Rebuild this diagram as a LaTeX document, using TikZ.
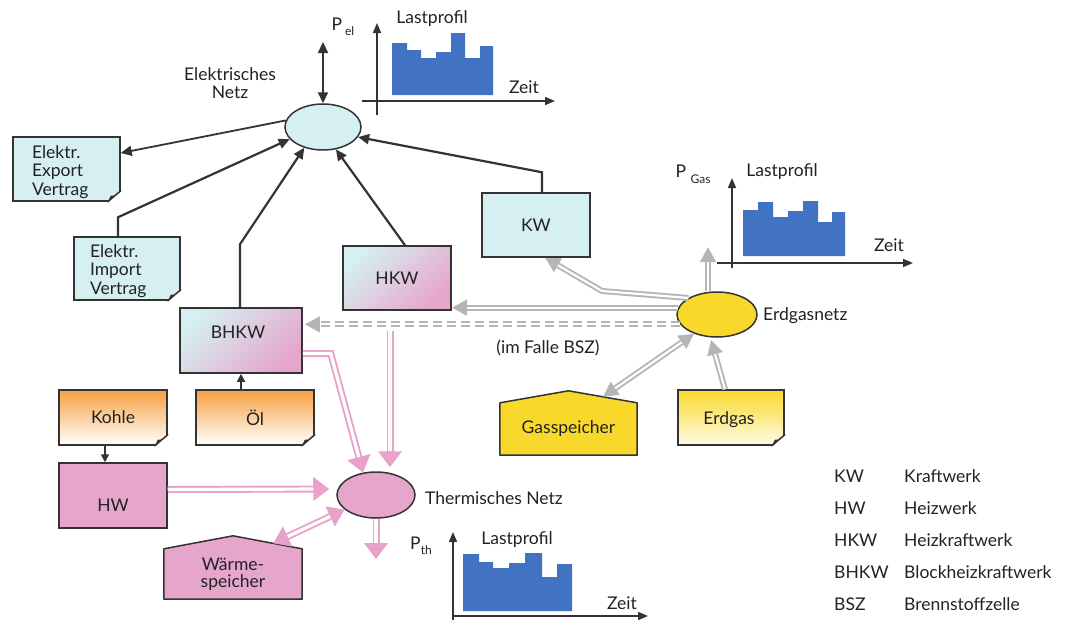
\documentclass[tikz,border=0pt]{standalone}
\usepackage{fontspec}
\setmainfont{Lato}
\usetikzlibrary{arrows.meta,shapes.geometric,calc,backgrounds}
\definecolor{cyanbox}{HTML}{D6EFF1}
\definecolor{pinkbox}{HTML}{E6A6CC}
\definecolor{yellowbox}{HTML}{F8D92B}
\definecolor{paleyellow}{HTML}{FFFBE6}
\definecolor{orangebox}{HTML}{F7A040}
\definecolor{barblue}{HTML}{4272C2}
\definecolor{arrgray}{HTML}{B5B5B5}
\definecolor{arrpink}{HTML}{E8A2CA}
\definecolor{edge}{HTML}{333333}
\definecolor{txt}{HTML}{222222}
\newcommand\dogear[1]{%
  \fill[white] ([xshift=-14pt,yshift=-2pt]#1.south east) -- ([xshift=2pt,yshift=-2pt]#1.south east) -- ([xshift=2pt,yshift=12pt]#1.south east) -- cycle;
  \fill[edge] ([xshift=-13pt]#1.south east) -- ([yshift=11pt]#1.south east) .. controls ([xshift=-5pt,yshift=6pt]#1.south east) .. ([xshift=-10pt,yshift=6pt]#1.south east) -- cycle;
  \draw[edge,line width=1.5pt,line cap=round] ([xshift=-13pt]#1.south east) -- ([yshift=11pt]#1.south east);
}
% double-line connector: outer coloured line, then white inner line
\newcommand\dline[3]{\draw[#1] #3; \draw[#2] #3;}
\begin{document}
\begin{tikzpicture}[x=1pt,y=-1pt,
  every node/.style={font=\fontsize{17.5}{18.5}\selectfont, inner sep=0pt, text=txt},
  box/.style={draw=edge, line width=1.5pt},
  net/.style={ellipse, draw=edge, line width=1.5pt},
  blk/.style={draw=edge, line width=2.2pt, -{Triangle[length=11pt,width=10pt]}},
  axis/.style={draw=edge, line width=1.5pt, -{Triangle[length=10pt,width=8pt]}},
  gout/.style={draw=arrgray, line width=6pt},
  gin/.style={draw=white, line width=2.2pt},
  gtip/.style={-{Triangle[length=15pt,width=15pt]}},
  gtips/.style={{Triangle[length=15pt,width=15pt]}-{Triangle[length=15pt,width=15pt]}},
  pout/.style={draw=arrpink, line width=7pt},
  pin/.style={draw=white, line width=3.2pt},
  ptip/.style={-{Triangle[length=16pt,width=23pt]}},
  ptips/.style={{Triangle[length=16pt,width=21pt]}-{Triangle[length=16pt,width=21pt]}},
  gdash/.style={dash pattern=on 9pt off 5pt},
  bars/.style={fill=barblue}
]
\useasboundingbox (0,0) rectangle (1072,622);

% ---------- nodes ----------
\node[net, fill=cyanbox, minimum width=76pt, minimum height=46pt] (elnetz) at (323,127) {};
\node[align=center] (elnetzlbl) at (230,83) {Elektrisches\\Netz};

\node[box, fill=cyanbox, minimum width=107pt, minimum height=64pt] (export) at (66.5,169) {};
\node[text width=72pt, align=left] (exporttxt) at (68,172) {Elektr.\\Export\\Vertrag};
\dogear{export}
\node[box, fill=cyanbox, minimum width=106pt, minimum height=63pt] (import) at (127,268.5) {};
\node[text width=76pt, align=left] (importtxt) at (128,271) {Elektr.\\Import\\Vertrag};
\dogear{import}

\node[box, fill=cyanbox, minimum width=108pt, minimum height=64pt] (kw) at (536,225) {KW};
\node[box, top color=cyanbox, bottom color=pinkbox, shading angle=45, minimum width=108pt, minimum height=64pt] (hkw) at (397,278) {HKW};
\node[box, top color=cyanbox, bottom color=pinkbox, shading angle=45, minimum width=122pt, minimum height=65pt] (bhkw) at (241,340.5) {};
\node (bhkwlbl) at (238,332) {BHKW};

\node[box, top color=orangebox, bottom color=white, minimum width=118pt, minimum height=55pt] (oel) at (255,417.5) {Öl};
\dogear{oel}
\node[box, top color=orangebox, bottom color=white, minimum width=108pt, minimum height=55pt] (kohle) at (113,417.5) {Kohle};
\dogear{kohle}
\node[box, fill=pinkbox, minimum width=108pt, minimum height=65pt] (hw) at (113,495.5) {};
\node (hwlbl) at (113,505) {HW};

\node[minimum width=138pt, minimum height=50pt, align=center, font=\fontsize{17.5}{16.5}\selectfont] (ws) at (233,574) {Wärme-\\speicher};
\node[minimum width=137pt, minimum height=52pt] (gs) at (568.5,429) {Gasspeicher};
\begin{pgfonlayer}{background}
\filldraw[fill=pinkbox, draw=edge, line width=1.5pt, line join=round] (ws.south west) -- (ws.north west) -- ([yshift=13pt]ws.north) -- (ws.north east) -- (ws.south east) -- cycle;
\filldraw[fill=yellowbox, draw=edge, line width=1.5pt, line join=round] (gs.south west) -- (gs.north west) -- ([yshift=12pt]gs.north) -- (gs.north east) -- (gs.south east) -- cycle;
\end{pgfonlayer}

\node[box, top color=yellowbox, bottom color=paleyellow, minimum width=106pt, minimum height=55pt] (erdgas) at (731,417.5) {};
\node (erdgaslbl) at (729,420) {Erdgas};
\dogear{erdgas}

\node[net, fill=yellowbox, minimum width=80pt, minimum height=45pt] (gasnetz) at (717,314.5) {};
\node[anchor=west] (gasnetzlbl) at (763,316) {Erdgasnetz};
\node[net, fill=pinkbox, minimum width=78pt, minimum height=46pt] (thnetz) at (376,495) {};
\node[anchor=west] (thnetzlbl) at (425,498) {Thermisches Netz};
\node (bsz) at (548,348) {(im Falle BSZ)};

% ---------- black connectors ----------
\coordinate (pel) at (323,42);
\draw[blk, {Triangle[length=11pt,width=10pt]}-{Triangle[length=11pt,width=10pt]}] (elnetz.north) -- (pel);
\draw[blk, line width=1.8pt] (elnetz.170) -- ([yshift=16pt]export.east);
\draw[blk] ([xshift=-9pt]import.north) -- ++(0,-19) -- (elnetz.200);
\draw[blk] ([xshift=-1pt]bhkw.north) -- ++(0,-63) -- (elnetz.228);
\draw[blk] ([xshift=8pt]hkw.north) -- (elnetz.300);
\draw[blk] ([xshift=6pt]kw.north) -- ++(0,-20) -- (elnetz.344);
\draw[blk, line width=1.6pt, -{Triangle[length=8pt,width=8pt]}] (oel.north -| bhkw.south) -- (bhkw.south);
\draw[blk, line width=1.6pt, -{Triangle[length=8pt,width=8pt]}] ([xshift=-8pt]kohle.south) -- ([xshift=-8pt]hw.north);

% ---------- gray connectors ----------
\coordinate (gup) at (708,247);
\dline{gout,gtip}{gin,shorten >=15pt}{([xshift=-9pt]gasnetz.north) -- (gup)}
\dline{gout,gtip}{gin,shorten >=15pt}{(gasnetz.150) -- (602,291) -- ([xshift=9pt]kw.south)}
\dline{gout,gtip}{gin,shorten >=15pt}{(gasnetz.170) -- (hkw.east |- gasnetz.170)}
\dline{gout,gdash,gtip}{gin,gdash,shorten >=15pt}{(gasnetz.195) -- ([xshift=2pt]bhkw.east |- gasnetz.195)}
\dline{gout,gtip}{gin,shorten >=15pt}{([xshift=-6pt]erdgas.north) -- ([xshift=-6pt,yshift=-2pt]gasnetz.south)}
\dline{gout,gtips}{gin,shorten >=15pt,shorten <=15pt}{($([yshift=12pt]gs.north)!0.5!(gs.north east)$) -- (gasnetz.220)}

% ---------- pink connectors ----------
\dline{pout,ptip}{pin,shorten >=16pt}{([xshift=-7pt,yshift=-20pt]hkw.south) -- ([xshift=-7pt,yshift=4pt]hkw.south |- thnetz.north)}
\dline{pout,ptip}{pin,shorten >=16pt}{([yshift=-13pt]bhkw.east) -- ++(28,0) -- (thnetz.120)}
\dline{pout,ptip}{pin,shorten >=16pt}{([yshift=6pt]hw.east) -- ([xshift=-7pt,yshift=6pt]thnetz.west)}
\dline{pout,ptips}{pin,shorten >=16pt,shorten <=16pt}{(thnetz.205) -- ($([yshift=13pt]ws.north)!0.58!(ws.north east)$)}
\coordinate (thdown) at (376,559);
\dline{pout,ptip}{pin,shorten >=16pt}{(thnetz.south) -- (thdown)}

% ---------- load profile: electric ----------
\fill[bars] (392,95) -- (392,43) -- (407,43) -- (407,50) -- (421,50) -- (421,58) -- (436,58) -- (436,52) -- (451,52) -- (451,33) -- (465,33) -- (465,58) -- (480,58) -- (480,46) -- (493,46) -- (493,95) -- cycle;
\coordinate (ely0) at (377,115); \coordinate (ely1) at (377,23);
\coordinate (elx0) at (362,101); \coordinate (elx1) at (555,101);
\draw[axis] (ely0) -- (ely1);
\draw[axis] (elx0) -- (elx1);
\node (pellbl) at (343,27) {P\,\raisebox{-5pt}{\fontsize{12}{12}\selectfont el}};
\node (ellast) at (432,19) {Lastprofil};
\node (elzeit) at (524,87) {Zeit};

% ---------- load profile: gas ----------
\fill[bars] (743,256) -- (743,210) -- (758,210) -- (758,202) -- (773,202) -- (773,217) -- (788,217) -- (788,211) -- (803,211) -- (803,201) -- (818,201) -- (818,222) -- (832,222) -- (832,212) -- (845,212) -- (845,256) -- cycle;
\coordinate (gay0) at (732,268); \coordinate (gay1) at (732,178);
\coordinate (gax0) at (717,263); \coordinate (gax1) at (913,263);
\draw[axis] (gay0) -- (gay1);
\draw[axis] (gax0) -- (gax1);
\node (pgaslbl) at (693,174) {P \raisebox{-6pt}{\fontsize{12}{12}\selectfont Gas}};
\node (galast) at (782,172) {Lastprofil};
\node (gazeit) at (889,245) {Zeit};

% ---------- load profile: thermal ----------
\fill[bars] (463,611) -- (463,554) -- (479,554) -- (479,562) -- (493,562) -- (493,568) -- (509,568) -- (509,563) -- (525,563) -- (525,553) -- (542,553) -- (542,577) -- (557,577) -- (557,564) -- (572,564) -- (572,611) -- cycle;
\coordinate (thy0) at (453,620); \coordinate (thy1) at (453,532);
\coordinate (thx0) at (453,616); \coordinate (thx1) at (648,616);
\draw[axis] (thy0) -- (thy1);
\draw[axis] (thx0) -- (thx1);
\node (pthlbl) at (421,546) {P\raisebox{-5pt}{\fontsize{12}{12}\selectfont th}};
\node (thlast) at (517,540) {Lastprofil};
\node (thzeit) at (622,603) {Zeit};

% ---------- legend ----------
\foreach \y/\a/\b [count=\i] in {476/KW/Kraftwerk, 508/HW/Heizwerk, 540/HKW/Heizkraftwerk, 572/BHKW/Blockheizkraftwerk, 604/BSZ/Brennstoffzelle}{
  \node[anchor=west] (lga\i) at (834,\y) {\a};
  \node[anchor=west] (lgb\i) at (904,\y) {\b};
}
\end{tikzpicture}
\end{document}
